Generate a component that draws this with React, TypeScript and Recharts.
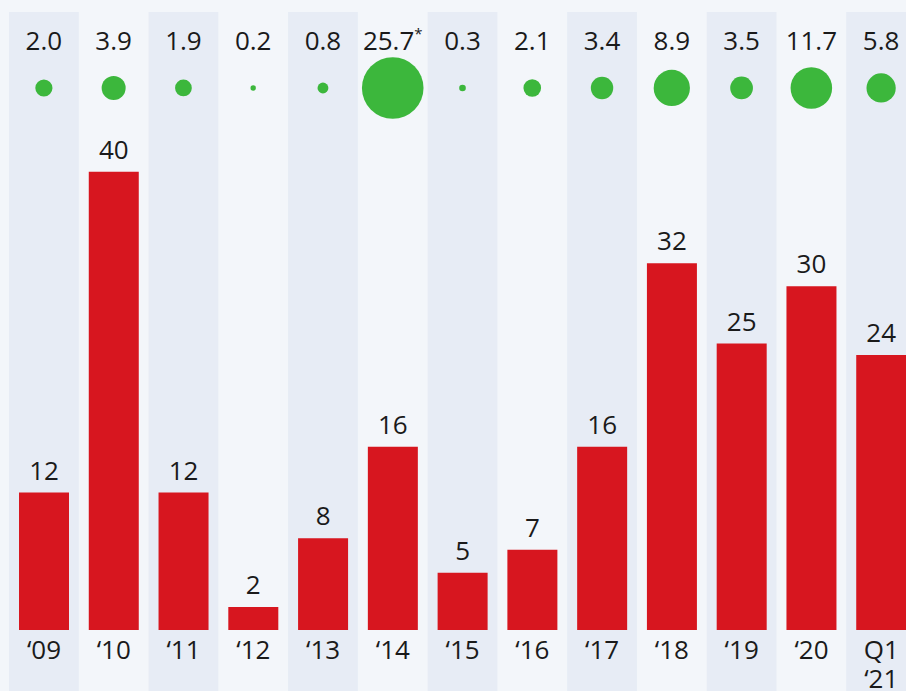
import {
  ComposedChart,
  Bar,
  Scatter,
  XAxis,
  YAxis,
  ZAxis,
  ReferenceArea,
  LabelList,
} from "recharts";

const years = ["‘09", "‘10", "‘11", "‘12", "‘13", "‘14", "‘15", "‘16", "‘17", "‘18", "‘19", "‘20", "Q1\n‘21"];
const bars = [12, 40, 12, 2, 8, 16, 5, 7, 16, 32, 25, 30, 24];
const growth = [2.0, 3.9, 1.9, 0.2, 0.8, 25.7, 0.3, 2.1, 3.4, 8.9, 3.5, 11.7, 5.8];
const growthNotes = ["", "", "", "", "", "*", "", "", "", "", "", "", ""];

const FONT = "'Open Sans', 'Noto Sans', sans-serif";
const TEXT = "#1a1a1a";
const RED = "#d7161f";
const GREEN = "#3cb73c";
const STRIPE = "#e7ecf5";
const BG = "#f3f6fa";

// y-axis row where the growth bubbles sit
const BUBBLE_ROW = 47.3;

const data = years.map((year, i) => ({
  year,
  value: bars[i],
  growth: growth[i],
  note: growthNotes[i],
}));

const BubbleShape = (props: any) => {
  const { cx, cy, width, payload } = props;
  return (
    <g>
      <circle cx={cx} cy={cy} r={width / 2} fill={GREEN} />
      <text
        x={cx}
        y={cy - 37.5}
        textAnchor="middle"
        fontSize={26}
        fontFamily={FONT}
        fill={TEXT}
      >
        {payload.growth.toFixed(1)}
        {payload.note ? (
          <tspan fontSize={15} dy={-11}>
            {payload.note}
          </tspan>
        ) : null}
      </text>
    </g>
  );
};

const YearLabel = (props: any) => {
  const vb = props.viewBox || {};
  const x = vb.x + vb.width / 2;
  const base = vb.y + vb.height;
  const lines = String(props.value).split("\n");
  return (
    <text x={x} y={base + 29} textAnchor="middle" fontSize={26} fontFamily={FONT} fill={TEXT}>
      {lines.map((l, i) => (
        <tspan key={i} x={x} dy={i === 0 ? 0 : 29}>
          {l}
        </tspan>
      ))}
    </text>
  );
};

export default function App() {
  return (
    <div style={{ position: "relative", width: 906, height: 691, overflow: "hidden", background: BG }}>
      <style>{`body{margin:0;background:${BG};}`}</style>
      <div style={{ position: "absolute", left: 9, top: 12 }}>
        <ComposedChart width={907} height={679} data={data} margin={{ top: 0, right: 0, bottom: 0, left: 0 }}>
          <XAxis dataKey="year" type="category" hide />
          <YAxis type="number" domain={[-5.32, 53.93]} allowDataOverflow hide />
          <ZAxis dataKey="growth" type="number" domain={[0, "dataMax"]} range={[0, Math.PI * 30.8 * 30.8]} />
          {years
            .filter((_, i) => i % 2 === 0)
            .map((y) => (
              <ReferenceArea key={y} x1={y} x2={y} fill={STRIPE} fillOpacity={1} stroke="none" ifOverflow="visible" />
            ))}
          <Bar dataKey="value" fill={RED} barSize={50} isAnimationActive={false}>
            <LabelList dataKey="value" position="top" offset={13} fontSize={26} fontFamily={FONT} fill={TEXT} />
            <LabelList dataKey="year" content={YearLabel} />
          </Bar>
          <Scatter dataKey={() => BUBBLE_ROW} shape={BubbleShape} isAnimationActive={false} />
        </ComposedChart>
      </div>
    </div>
  );
}
